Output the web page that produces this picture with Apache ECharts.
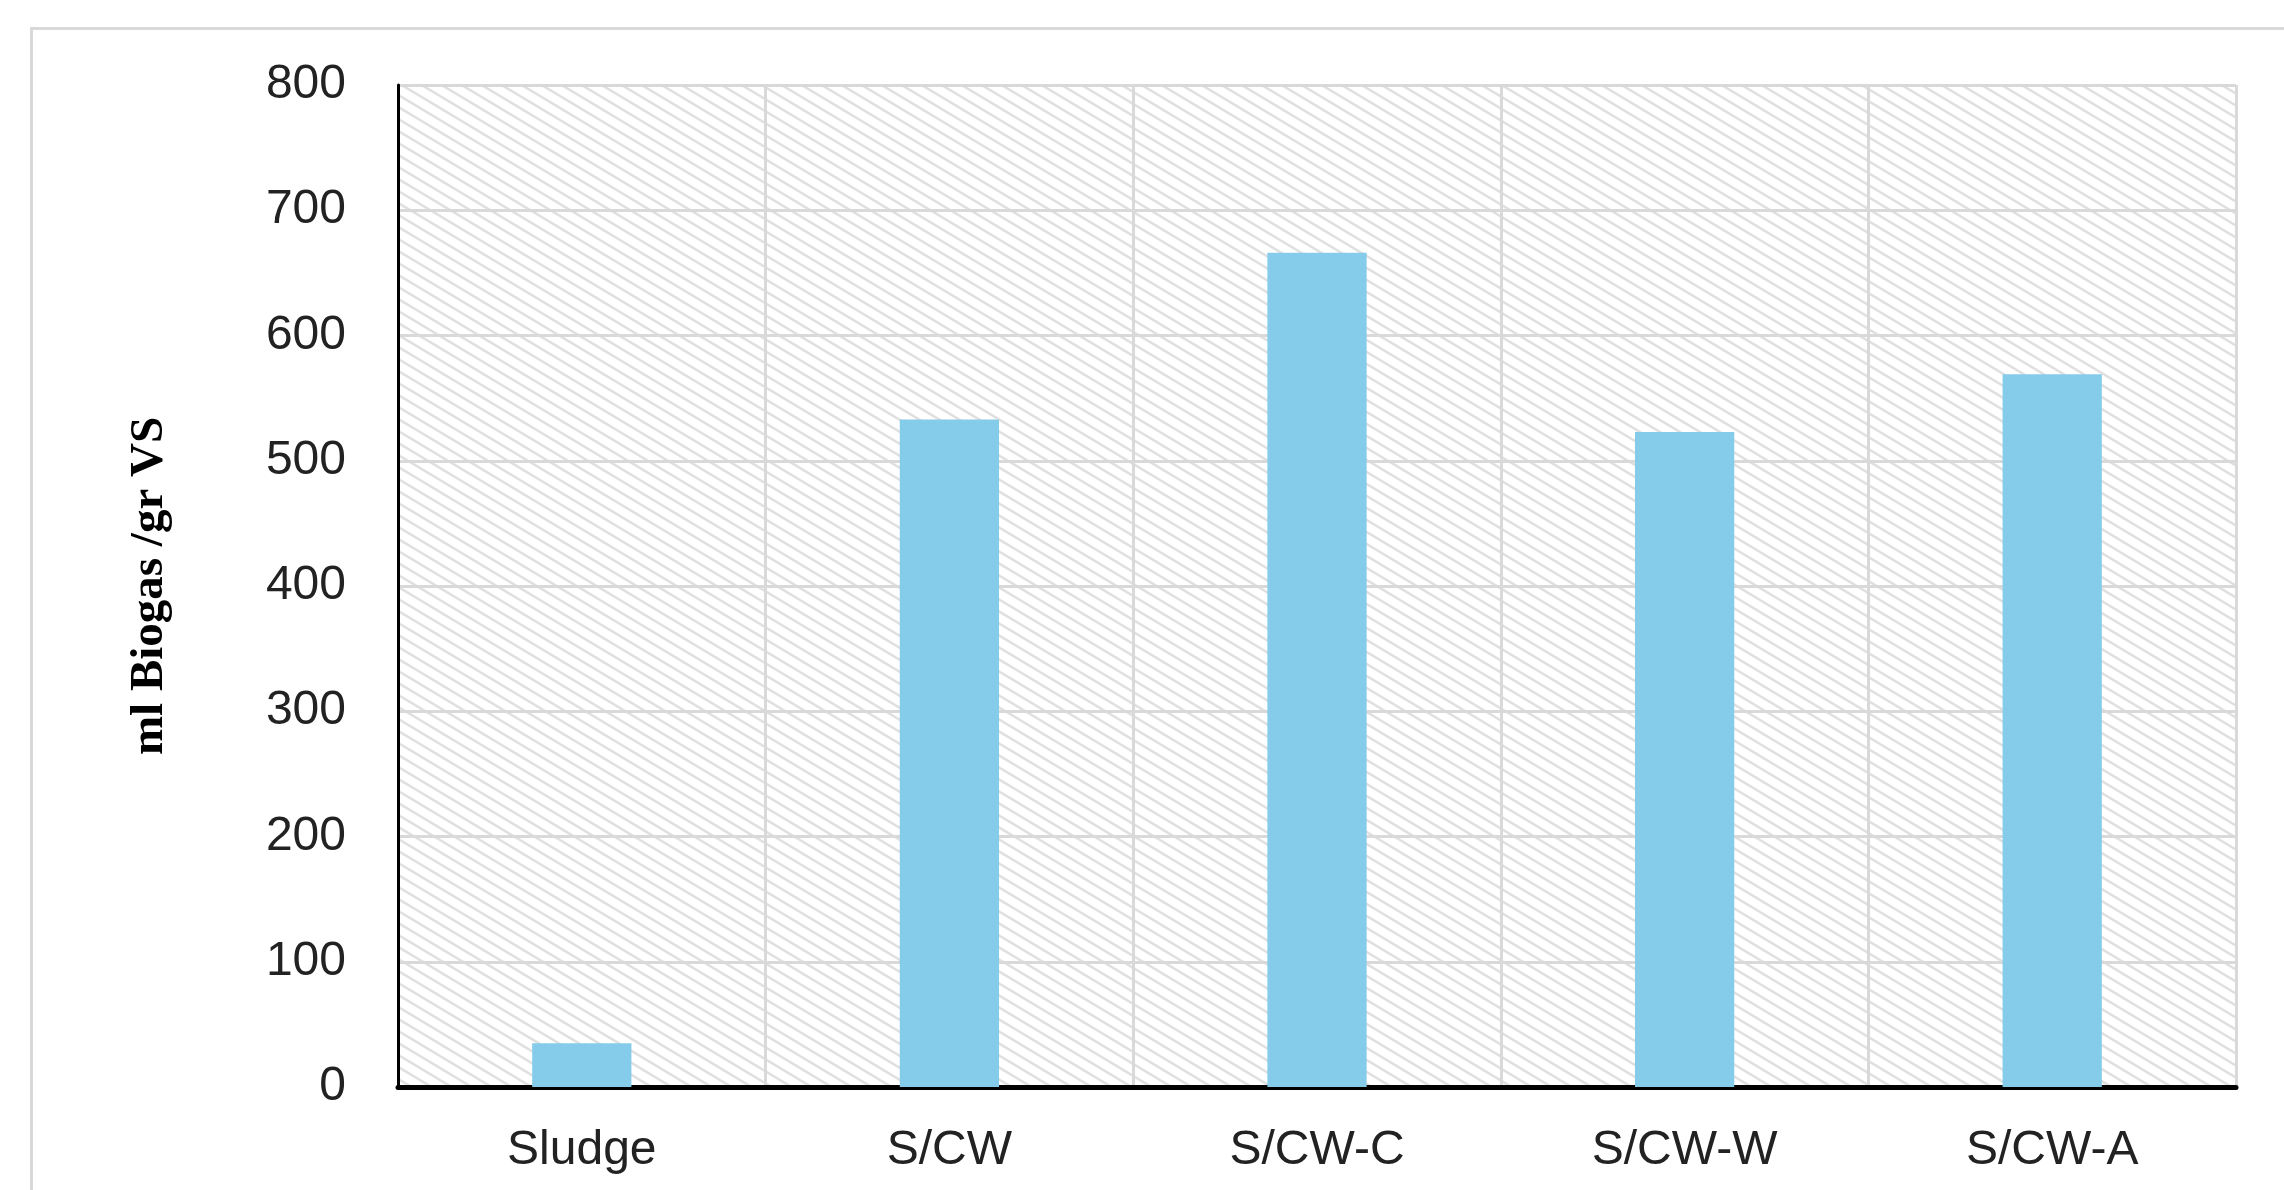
<!DOCTYPE html>
<html>
<head>
<meta charset="utf-8">
<style>
html,body{margin:0;padding:0;background:#fff;}
#chart{width:2284px;height:1190px;}
</style>
<script src="https://cdn.jsdelivr.net/npm/echarts@6/dist/echarts.min.js"></script>
</head>
<body>
<div id="chart"></div>
<script>
const categories = ['Sludge', 'S/CW', 'S/CW-C', 'S/CW-W', 'S/CW-A'];
const biogasValues = [35, 533, 666, 523, 569];
const yAxisTitle = 'ml Biogas /gr VS';

function hatch() {
  const w = 20, h = 12;
  const c = document.createElement('canvas');
  c.width = w; c.height = h;
  const g = c.getContext('2d');
  g.fillStyle = '#ffffff';
  g.fillRect(0, 0, w, h);
  g.strokeStyle = '#e0e0e0';
  g.lineWidth = 2.5;
  g.beginPath();
  for (let k = -2; k <= 2; k++) {
    g.moveTo(-w, -h + k * h);
    g.lineTo(2 * w, 2 * h + k * h);
  }
  g.stroke();
  return c;
}

const chart = echarts.init(document.getElementById('chart'));
chart.setOption({
  animation: false,
  backgroundColor: '#ffffff',
  graphic: [{
    type: 'rect',
    left: 29, top: 26,
    shape: { width: 2400, height: 1300 },
    style: { fill: 'none', stroke: '#d9d9d9', lineWidth: 3 },
    silent: true
  }],
  grid: {
    left: 398, top: 85, right: 48, bottom: 103,
    show: true,
    backgroundColor: { image: hatch(), repeat: 'repeat' },
    borderWidth: 0
  },
  xAxis: {
    type: 'category',
    data: categories,
    axisTick: { show: false },
    axisLine: { show: true, lineStyle: { color: '#000', width: 5 } },
    splitLine: { show: true, lineStyle: { color: '#d9d9d9', width: 3 } },
    axisLabel: { color: '#222', fontSize: 48, fontFamily: 'Liberation Sans', margin: 40 }
  },
  yAxis: {
    type: 'value',
    min: 0, max: 800, interval: 100,
    name: yAxisTitle,
    nameLocation: 'middle',
    nameRotate: 90,
    nameGap: 225,
    nameTextStyle: { fontFamily: 'Liberation Serif', fontWeight: 'bold', fontSize: 47, color: '#000' },
    axisLine: { show: true, lineStyle: { color: '#000', width: 3 } },
    axisTick: { show: false },
    splitLine: { show: true, lineStyle: { color: '#d9d9d9', width: 3 } },
    axisLabel: { color: '#222', fontSize: 48, fontFamily: 'Liberation Sans', margin: 52 }
  },
  series: [{
    type: 'bar',
    data: biogasValues,
    barWidth: '27%',
    itemStyle: { color: '#85CBEA' }
  }]
});
</script>
</body>
</html>
